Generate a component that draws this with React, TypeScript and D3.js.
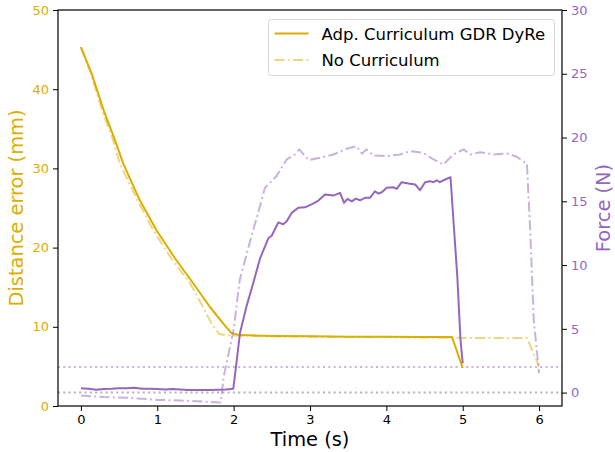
import { useRef, useEffect } from 'react';
import * as d3 from 'd3';

// distance error (mm), adaptive curriculum
const adpDistT = [0, 0.14, 0.31, 0.445, 0.555, 0.77, 0.99, 1.25, 1.47, 1.69, 1.865, 1.97, 2.08, 2.5, 3.0, 3.5, 4.0, 4.5, 4.86, 5.0];
const adpDist = [45.3, 42.0, 37.0, 33.6, 30.6, 26.0, 22.2, 18.4, 15.5, 12.5, 10.4, 9.2, 8.95, 8.85, 8.8, 8.75, 8.75, 8.72, 8.7, 4.8];

// distance error (mm), no curriculum
const noDistT = [0, 0.13, 0.29, 0.42, 0.51, 0.74, 0.947, 1.2, 1.43, 1.6, 1.71, 1.81, 1.9, 2.0, 2.5, 3.0, 3.5, 4.0, 4.5, 5.0, 5.5, 5.84, 6.0];
const noDist = [45.3, 42.0, 37.0, 33.6, 30.6, 26.0, 22.2, 18.4, 15.5, 12.5, 10.4, 9.1, 8.95, 8.9, 8.8, 8.75, 8.7, 8.7, 8.65, 8.6, 8.6, 8.6, 5.0];

// force (N), adaptive curriculum
const adpForceT = [0, 0.1, 0.2, 0.3, 0.4, 0.5, 0.6, 0.7, 0.8, 0.9, 1.0, 1.1, 1.2, 1.3, 1.4, 1.5, 1.6, 1.7, 1.8, 1.9, 1.995, 2.03,
  2.083, 2.17, 2.257, 2.345, 2.454, 2.498, 2.585, 2.65, 2.695, 2.76, 2.847, 2.935, 3.04, 3.11, 3.197, 3.306, 3.394, 3.446,
  3.49, 3.547, 3.6, 3.655, 3.72, 3.786, 3.85, 3.895, 3.94, 4.005, 4.09, 4.136, 4.2, 4.29, 4.376, 4.44, 4.507, 4.57, 4.616,
  4.66, 4.70, 4.77, 4.84, 4.93, 4.97, 5.0];
const adpForce = [0.35, 0.3, 0.22, 0.28, 0.3, 0.35, 0.35, 0.38, 0.3, 0.3, 0.28, 0.25, 0.28, 0.25, 0.2, 0.2, 0.2, 0.2, 0.22, 0.25, 0.3, 2.0,
  4.67, 6.8, 8.6, 10.5, 12.1, 12.3, 13.35, 13.2, 13.43, 14.09, 14.49, 14.53, 14.82, 15.06, 15.53, 15.45, 15.66, 14.88,
  15.19, 15.0, 15.21, 15.08, 15.27, 15.27, 15.79, 15.6, 15.71, 16.06, 16.1, 15.98, 16.5, 16.39, 16.32, 15.87, 16.5, 16.58, 16.5,
  16.65, 16.5, 16.71, 16.89, 9.0, 4.2, 2.3];

// force (N), no curriculum
const noForceT = [0, 0.3, 0.6, 1.0, 1.3, 1.6, 1.83, 1.87, 2.0, 2.08, 2.21, 2.32, 2.41, 2.56, 2.695, 2.80, 2.86, 2.98, 3.13,
  3.306, 3.48, 3.61, 3.68, 3.74, 3.83, 4.005, 4.18, 4.31, 4.485, 4.616, 4.75, 4.81, 4.88, 5.01, 5.10, 5.23, 5.40, 5.58,
  5.71, 5.79, 5.84, 5.88, 5.93, 6.0];
const noForce = [-0.23, -0.35, -0.4, -0.57, -0.62, -0.7, -0.78, 1.26, 4.93, 8.85, 11.74, 14.09, 16.06, 16.97, 18.28, 18.67, 19.07, 18.23, 18.41,
  18.67, 19.12, 19.32, 18.73, 19.07, 18.6, 18.54, 18.67, 18.93, 18.8, 18.28, 17.89, 18.28, 18.67, 19.07, 18.67, 18.85, 18.67, 18.75,
  18.49, 18.15, 17.97, 13.2, 5.7, 1.52];

const xTicks = [0, 1, 2, 3, 4, 5, 6];
const leftTicks = [0, 10, 20, 30, 40, 50];
const rightTicks = [0, 5, 10, 15, 20, 25, 30];
const legendLabels = ['Adp. Curriculum GDR DyRe', 'No Curriculum'];

const GOLD = '#dcae00';
const PURPLE = '#9467bd';
const FONT = '"DejaVu Sans", sans-serif';

export default function App() {
  const svgRef = useRef<SVGSVGElement | null>(null);

  useEffect(() => {
    const width = 615, height = 452;
    const margin = { top: 10, right: 53, bottom: 46, left: 58 };
    const innerWidth = width - margin.left - margin.right;
    const innerHeight = height - margin.top - margin.bottom;

    d3.select(svgRef.current).selectAll('*').remove();
    const svg = d3.select(svgRef.current)
      .attr('width', width)
      .attr('height', height);

    const g = svg.append('g')
      .attr('transform', `translate(${margin.left},${margin.top})`);

    const x = d3.scaleLinear().domain([-0.3, 6.3]).range([0, innerWidth]);
    const yL = d3.scaleLinear().domain([0, 50]).range([innerHeight, 0]);
    const yR = d3.scaleLinear().domain([-1.05, 30]).range([innerHeight, 0]);

    // reference lines
    g.append('line')
      .attr('x1', 0).attr('x2', innerWidth)
      .attr('y1', yR(2)).attr('y2', yR(2))
      .attr('stroke', PURPLE).attr('stroke-opacity', 0.5)
      .attr('stroke-width', 2).attr('stroke-dasharray', '2,3.3');
    g.append('line')
      .attr('x1', 0).attr('x2', innerWidth)
      .attr('y1', yR(0)).attr('y2', yR(0))
      .attr('stroke', 'gray').attr('stroke-opacity', 0.6)
      .attr('stroke-width', 2).attr('stroke-dasharray', '2,3.3');

    const drawLine = (ts: number[], vs: number[], y: d3.ScaleLinear<number, number>, color: string, dashed: boolean) => {
      const line = d3.line<number>()
        .x((_, i) => x(ts[i]))
        .y(d => y(d));
      g.append('path')
        .datum(vs)
        .attr('d', line)
        .attr('fill', 'none')
        .attr('stroke', color)
        .attr('stroke-opacity', dashed ? 0.5 : 1)
        .attr('stroke-width', 2)
        .attr('stroke-linejoin', 'round')
        .attr('stroke-dasharray', dashed ? '10,3.3,2,3.3' : null);
    };

    drawLine(noDistT, noDist, yL, GOLD, true);
    drawLine(adpDistT, adpDist, yL, GOLD, false);
    drawLine(noForceT, noForce, yR, PURPLE, true);
    drawLine(adpForceT, adpForce, yR, PURPLE, false);

    // axes
    const xAxis = g.append('g')
      .attr('transform', `translate(0,${innerHeight})`)
      .call(d3.axisBottom(x).tickValues(xTicks).tickSize(5).tickPadding(4).tickFormat(d3.format('d')));
    const left = g.append('g')
      .call(d3.axisLeft(yL).tickValues(leftTicks).tickSize(5).tickPadding(4).tickFormat(d3.format('d')));
    const right = g.append('g')
      .attr('transform', `translate(${innerWidth},0)`)
      .call(d3.axisRight(yR).tickValues(rightTicks).tickSize(5).tickPadding(4).tickFormat(d3.format('d')));

    [xAxis, left, right].forEach(a => {
      a.select('.domain').remove();
      a.selectAll('text').style('font-family', FONT).style('font-size', '13px');
    });
    xAxis.selectAll('text').attr('fill', '#000');
    left.selectAll('text').attr('fill', GOLD);
    right.selectAll('text').attr('fill', PURPLE);

    // frame
    g.append('rect')
      .attr('width', innerWidth).attr('height', innerHeight)
      .attr('fill', 'none').attr('stroke', '#000').attr('stroke-width', 1.2);

    // axis labels
    svg.append('text')
      .attr('x', margin.left + innerWidth / 2).attr('y', 446)
      .attr('text-anchor', 'middle')
      .style('font-family', FONT).style('font-size', '19.4px')
      .attr('fill', '#000')
      .text('Time (s)');
    svg.append('text')
      .attr('transform', `translate(23,${margin.top + innerHeight / 2}) rotate(-90)`)
      .attr('text-anchor', 'middle')
      .style('font-family', FONT).style('font-size', '19.4px')
      .attr('fill', GOLD)
      .text('Distance error (mm)');
    svg.append('text')
      .attr('transform', `translate(610,${margin.top + innerHeight / 2}) rotate(-90)`)
      .attr('text-anchor', 'middle')
      .style('font-family', FONT).style('font-size', '19.4px')
      .attr('fill', PURPLE)
      .text('Force (N)');

    // legend
    const lg = svg.append('g').attr('transform', 'translate(268.5,19.5)');
    lg.append('rect')
      .attr('width', 286).attr('height', 56)
      .attr('rx', 3).attr('ry', 3)
      .attr('fill', 'white').attr('fill-opacity', 0.8)
      .attr('stroke', '#d6d6d6').attr('stroke-width', 1);
    legendLabels.forEach((label, i) => {
      const ly = 14 + i * 26.5;
      lg.append('line')
        .attr('x1', 6).attr('x2', 40)
        .attr('y1', ly).attr('y2', ly)
        .attr('stroke', GOLD)
        .attr('stroke-opacity', i === 0 ? 1 : 0.5)
        .attr('stroke-width', 2)
        .attr('stroke-dasharray', i === 0 ? null : '10,3.3,2,3.3');
      lg.append('text')
        .attr('x', 53).attr('y', ly + 6)
        .style('font-family', FONT).style('font-size', '16.5px')
        .attr('fill', '#000')
        .text(label);
    });
  }, []);

  return <svg ref={svgRef} style={{ position: 'absolute', left: 0, top: 0 }}></svg>;
}
